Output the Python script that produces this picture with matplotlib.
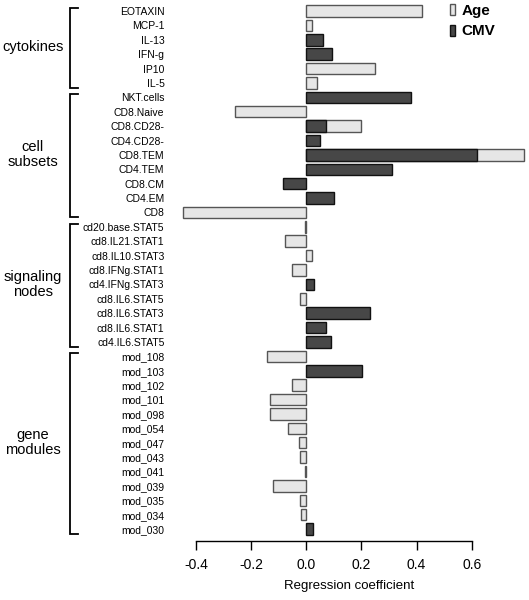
import numpy as np
import matplotlib
matplotlib.use("Agg")
import matplotlib.pyplot as plt
import matplotlib.transforms as mtransforms

nan = np.nan

labels = ["EOTAXIN", "MCP-1", "IL-13", "IFN-g", "IP10", "IL-5",
          "NKT.cells", "CD8.Naive", "CD8.CD28-", "CD4.CD28-", "CD8.TEM", "CD4.TEM",
          "CD8.CM", "CD4.EM", "CD8",
          "cd20.base.STAT5", "cd8.IL21.STAT1", "cd8.IL10.STAT3", "cd8.IFNg.STAT1",
          "cd4.IFNg.STAT3", "cd8.IL6.STAT5", "cd8.IL6.STAT3", "cd8.IL6.STAT1", "cd4.IL6.STAT5",
          "mod_108", "mod_103", "mod_102", "mod_101", "mod_098", "mod_054", "mod_047",
          "mod_043", "mod_041", "mod_039", "mod_035", "mod_034", "mod_030"]

age = [0.42, 0.022, nan, nan, 0.25, 0.04,
       nan, -0.26, 0.20, nan, 0.79, nan, nan, nan, -0.448,
       -0.003, -0.078, 0.022, -0.053, nan, -0.024, nan, nan, nan,
       -0.141, nan, -0.051, -0.13, -0.13, -0.066, -0.025, -0.023, -0.003,
       -0.121, -0.022, -0.018, nan]

cmv = [nan, nan, 0.06, 0.093, nan, nan,
       0.38, nan, 0.073, 0.049, 0.62, 0.311, -0.083, 0.099, nan,
       nan, nan, nan, nan, 0.027, nan, 0.231, 0.073, 0.09,
       nan, 0.201, nan, nan, nan, nan, nan, nan, nan,
       nan, nan, nan, 0.025]

groups = ["cytokines", "cell\nsubsets", "signaling\nnodes", "gene\nmodules"]
group_sizes = [6, 9, 9, 13]

xticks = [-0.4, -0.2, 0.0, 0.2, 0.4, 0.6]
xlabel = "Regression coefficient"

plt.rcParams['font.family'] = ['Liberation Sans', 'DejaVu Sans']

W, H = 529, 600
fig = plt.figure(figsize=(W / 100, H / 100), dpi=100)

ax_left, ax_right = 170, 528
ax_top, ax_bot = 0, 540.7
ax = fig.add_axes([ax_left / W, 1 - ax_bot / H, (ax_right - ax_left) / W, (ax_bot - ax_top) / H])

zero_px, px_per_unit = 306.3, 275.7
ax.set_xlim((ax_left - zero_px) / px_per_unit, (ax_right - zero_px) / px_per_unit)
row0, row_step = 11.0, 14.39
ax.set_ylim((ax_bot - row0) / row_step, (ax_top - row0) / row_step)

y = np.arange(len(labels))
light = "#e6e6e6"
dark = "#474747"
ax.barh(y, age, height=0.8, color=light, edgecolor="#555555", linewidth=1.0, zorder=2, label="Age")
ax.barh(y, cmv, height=0.8, color=dark, edgecolor="#111111", linewidth=1.0, zorder=3, label="CMV")

ax.set_yticks(y)
ax.set_yticklabels(labels, fontsize=7.5)
ax.tick_params(axis='y', length=0, pad=4)

for s in ["top", "right", "left"]:
    ax.spines[s].set_visible(False)
ax.spines["bottom"].set_bounds(xticks[0], xticks[-1])
ax.spines["bottom"].set_linewidth(1.0)
ax.set_xticks(xticks)
ax.set_xticklabels([f"{t:.1f}" for t in xticks], fontsize=10)
ax.tick_params(axis='x', direction='out', length=6.5, width=1.0, pad=6)
ax.set_xlabel(xlabel, fontsize=9.5, labelpad=6)

# brackets and group labels
trans = mtransforms.blended_transform_factory(fig.transFigure, ax.transData)
start = 0
bx = 69.5 / W
hook = 8 / W
for g, n in zip(groups, group_sizes):
    top = start - 0.22
    bot = start + n - 1 + 0.35
    ax.plot([bx + hook, bx, bx, bx + hook], [top, top, bot, bot], color="black",
            lw=1.3, transform=trans, clip_on=False, solid_joinstyle="miter")
    mid = start + (n - 1) / 2
    ax.text(33 / W, mid, g, transform=trans, ha="center", va="center", fontsize=10.5,
            linespacing=1.1)
    start += n

# legend
leg = ax.legend(loc="upper right", bbox_to_anchor=(500 / W, 1.0 + 1 / H), bbox_transform=fig.transFigure,
                frameon=False, prop={"weight": "bold", "size": 11}, handlelength=0.33,
                handleheight=0.75, handletextpad=0.45, labelspacing=0.45, borderaxespad=0.1,
                borderpad=0.2)

fig.savefig("out.png", dpi=100)
